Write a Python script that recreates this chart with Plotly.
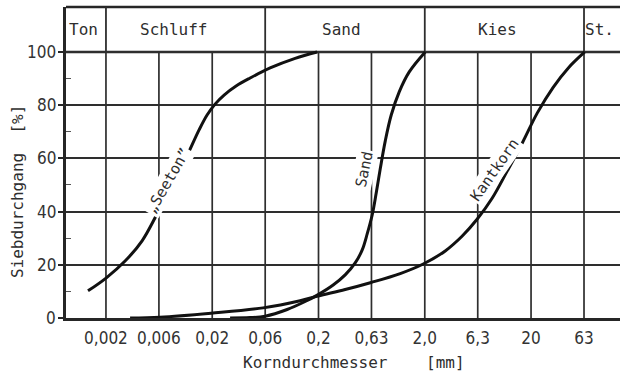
import math
import plotly.graph_objects as go

# ---------------- data ----------------
tick_vals = [0.002, 0.0063, 0.02, 0.063, 0.2, 0.63, 2.0, 6.3, 20, 63]
tick_text = ["0,002", "0,006", "0,02", "0,06", "0,2", "0,63", "2,0", "6,3", "20", "63"]
y_ticks = [0, 20, 40, 60, 80, 100]
y_tick_text = ["0", "20", "40", "60", "80", "100"]
y_minor = [10, 30, 50, 70, 90]

zone_names = ["Ton", "Schluff", "Sand", "Kies", "St."]
zone_bounds = [0.002, 0.063, 2.0, 63]

seeton_x = [0.001355, 0.002004, 0.003027, 0.004375, 0.006053, 0.008023, 0.01111,
            0.01504, 0.01789, 0.02128, 0.02586, 0.03354, 0.04546, 0.07016, 0.1205, 0.194]
seeton_y = [10.2, 15.0, 21.4, 29.0, 39.1, 48.5, 59.4,
            70.7, 76.3, 80.4, 83.8, 87.2, 90.2, 94.0, 97.6, 100.0]

sand_x = [0.02944, 0.04546, 0.06293, 0.1014, 0.1497, 0.1985, 0.2748, 0.3565, 0.4428,
          0.5156, 0.5743, 0.6400, 0.6983, 0.7615, 0.8489, 0.9667, 1.1497, 1.4287, 2.02]
sand_y = [0.0, 0.15, 0.68, 3.2, 6.2, 8.8, 12.4, 16.2, 20.7,
          25.6, 31.6, 38.7, 47.0, 56.0, 66.5, 76.3, 85.0, 92.5, 100.0]

kant_x = [0.003373, 0.006457, 0.01951, 0.0602, 0.1343, 0.1985, 0.3565, 0.6266, 1.175,
          1.934, 3.116, 4.505, 6.237, 8.636, 11.96, 16.55, 22.92, 32.42, 44.87, 64.0]
kant_y = [0.0, 0.3, 1.8, 3.8, 6.5, 8.3, 10.7, 13.35, 16.7,
          20.3, 25.2, 30.8, 37.2, 45.1, 55.3, 65.8, 77.1, 86.8, 94.0, 100.0]

curve_labels = ["\u201eSeeton\u201d", "Sand", "Kantkorn"]

# ---------------- layout constants ----------------
X_RANGE = [-3.075, 2.138]
Y_TOP = 116.9
GRID = "#2e2e2e"
INK = "#262626"
TICKFONT = dict(family="Liberation Sans Narrow, DejaVu Sans Condensed, Liberation Sans", size=17, color="#333333")
TXTFONT = dict(family="DejaVu Sans Mono, Liberation Mono", size=16, color="#2e2e2e")

fig = go.Figure()
for xs, ys in [(seeton_x, seeton_y), (sand_x, sand_y), (kant_x, kant_y)]:
    fig.add_trace(go.Scatter(x=xs, y=ys, mode="lines",
                             line=dict(color="#111111", width=3, shape="spline", smoothing=1.0),
                             showlegend=False, hoverinfo="skip"))

shapes = []
for v in tick_vals:
    shapes.append(dict(type="line", xref="x", yref="y", x0=v, x1=v, y0=0, y1=100,
                       line=dict(color=GRID, width=1.7), layer="below"))
for b in zone_bounds:
    shapes.append(dict(type="line", xref="x", yref="y", x0=b, x1=b, y0=100, y1=Y_TOP,
                       line=dict(color=GRID, width=1.8), layer="below"))
shapes.append(dict(type="line", xref="paper", yref="y", x0=0, x1=1, y0=100, y1=100,
                   line=dict(color=INK, width=2.4), layer="below"))
shapes.append(dict(type="line", xref="paper", yref="paper", x0=0, x1=1, y0=1, y1=1,
                   line=dict(color=INK, width=2.6), layer="below"))

annotations = []
zone_label_x = [0.00124, 0.0086, 0.327, 9.6, 62.0]
for name, xl in zip(zone_names, zone_label_x):
    annotations.append(dict(x=math.log10(xl), y=108.3, xref="x", yref="y",
                            text=name, showarrow=False, font=TXTFONT,
                            xanchor="left" if name == "St." else "center", yanchor="middle"))
label_pos = [(0.00765, 51.5, -60), (0.54, 56.0, -78), (9.1, 55.5, -55)]
for txt, (lx, ly, ang) in zip(curve_labels, label_pos):
    annotations.append(dict(x=math.log10(lx), y=ly, xref="x", yref="y", text=txt,
                            showarrow=False, textangle=ang, bgcolor="white",
                            xanchor="center", yanchor="middle",
                            borderpad=1, font=dict(family=TXTFONT["family"], size=15, color="#2e2e2e")))
# y tick labels (placed explicitly for exact offset)
for v, t in zip(y_ticks, y_tick_text):
    annotations.append(dict(x=-8 / 554, y=v, xref="paper", yref="y", text=t,
                            showarrow=False, xanchor="right", yanchor="middle",
                            font=TICKFONT))
annotations.append(dict(x=-0.0885, y=0.408, xref="paper", yref="paper",
                        xanchor="center", yanchor="middle",
                        text="Siebdurchgang\u00a0\u00a0[%]", textangle=-90, showarrow=False,
                        font=TXTFONT))
annotations.append(dict(x=0.52, y=-0.1415, xref="paper", yref="paper",
                        xanchor="center", yanchor="middle",
                        text="Korndurchmesser\u00a0\u00a0\u00a0\u00a0[mm]", showarrow=False,
                        font=TXTFONT))

fig.update_layout(
    width=620, height=376,
    margin=dict(l=66, r=0, t=7, b=58),
    paper_bgcolor="white", plot_bgcolor="white",
    shapes=shapes, annotations=annotations,
    xaxis=dict(type="log", range=X_RANGE, tickmode="array", tickvals=tick_vals,
               ticktext=tick_text, showgrid=False, zeroline=False,
               showline=True, linecolor=INK, linewidth=3, ticks="",
               ticklabelstandoff=3, tickfont=TICKFONT),
    yaxis=dict(range=[0, Y_TOP], tickmode="array", tickvals=y_ticks,
               showticklabels=False,
               showgrid=True, gridcolor=GRID, gridwidth=1.7, zeroline=False,
               showline=True, linecolor=INK, linewidth=3,
               ticks="outside", ticklen=5, tickwidth=1.5, tickcolor=INK,
               minor=dict(tickmode="array", tickvals=y_minor, ticks="inside",
                          ticklen=5, tickwidth=1.3, tickcolor="#555555", showgrid=False)),
)

fig.write_html("out.html")
